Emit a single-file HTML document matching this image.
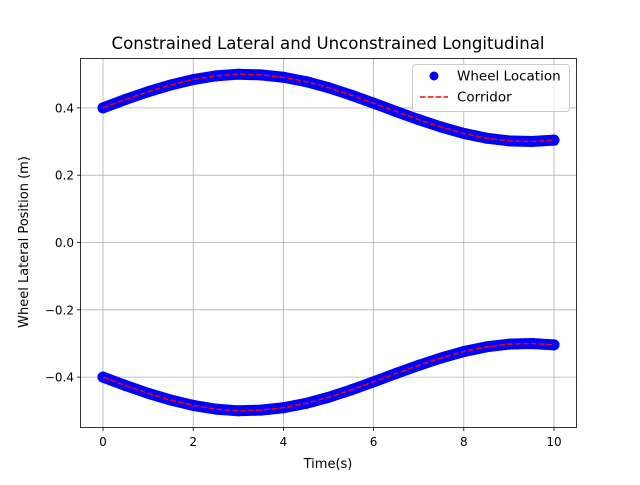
<!DOCTYPE html>
<html><head><meta charset="utf-8"><style>
body{margin:0;background:#fff}
svg{font-family:"DejaVu Sans","Liberation Sans",sans-serif}
</style></head><body>
<svg id="chart" width="640" height="480" viewBox="0 0 640 480" xmlns="http://www.w3.org/2000/svg">
<rect width="640" height="480" fill="#fff"/>
<g id="grid"></g>
<g id="series"></g>
<rect x="80.5" y="58.5" width="496" height="369" fill="none" stroke="#000" stroke-width="0.8"/>
<g id="ticks" font-size="12" fill="#000"></g>
<text x="328" y="49" text-anchor="middle" font-size="16.6">Constrained Lateral and Unconstrained Longitudinal</text>
<text x="328" y="468" text-anchor="middle" font-size="13">Time(s)</text>
<text transform="translate(28,242) rotate(-90)" text-anchor="middle" font-size="13">Wheel Lateral Position (m)</text>
<g>
<rect x="412.5" y="64.5" width="157" height="47" rx="3" fill="#fff" fill-opacity="0.8" stroke="#ccc"/>
<circle cx="434" cy="76" r="4.5" fill="#0000ff"/>
<text x="457" y="80.5" font-size="13.5">Wheel Location</text>
<line x1="420" y1="97" x2="448" y2="97" stroke="#ff0000" stroke-width="1.5" stroke-dasharray="5.5,2.4"/>
<text x="457" y="101.5" font-size="13.5">Corridor</text>
</g>
</svg>
<script>
const times=[0,0.5,1,1.5,2,2.5,3,3.5,4,4.5,5,5.5,6,6.5,7,7.5,8,8.5,9,9.5,10];
const upperValues=[.400,.425,.448,.468,.484,.495,.500,.498,.491,.478,.460,.438,.414,.389,.365,.343,.324,.310,.302,.300,.304];
const lowerValues=[-.400,-.425,-.448,-.468,-.484,-.495,-.500,-.498,-.491,-.478,-.460,-.438,-.414,-.389,-.365,-.343,-.324,-.310,-.302,-.300,-.304];
const xTicks=[0,2,4,6,8,10];
const yTicks=[-0.4,-0.2,0.0,0.2,0.4];
const yTickLabels=["−0.4","−0.2","0.0","0.2","0.4"];
const NS="http://www.w3.org/2000/svg";
const xS=v=>103+v*45.1;
const yS=v=>242.5-v*336.6;
function mk(t,a,p){const e=document.createElementNS(NS,t);for(const k in a)e.setAttribute(k,a[k]);p.appendChild(e);return e;}
const grid=document.getElementById('grid'),ticks=document.getElementById('ticks'),ser=document.getElementById('series');
xTicks.forEach(v=>{const x=xS(v);
const g=mk('line',{x1:x,x2:x,y1:58.5,y2:427.5,stroke:'#b0b0b0','stroke-width':0.8},grid);


const t=mk('line',{x1:x,x2:x,y1:427.5,y2:431,stroke:'#000','stroke-width':0.8},ticks);


const l=mk('text',{x:x,y:446,'text-anchor':'middle'},ticks);l.textContent=String(v);

});
yTicks.forEach((v,i)=>{const y=yS(v);
const g=mk('line',{x1:80.5,x2:576.5,y1:y,y2:y,stroke:'#b0b0b0','stroke-width':0.8},grid);


const t=mk('line',{x1:77,x2:80.5,y1:y,y2:y,stroke:'#000','stroke-width':0.8},ticks);


const l=mk('text',{x:74,y:y+4.5,'text-anchor':'end'},ticks);l.textContent=yTickLabels[i];

});
[[upperValues,'upper'],[lowerValues,'lower']].forEach(([vals,nm])=>{
const pts=times.map((t,i)=>xS(t)+','+yS(vals[i])).join(' ');
const band=mk('polyline',{points:pts,fill:'none',stroke:'#0000ff','stroke-width':11,'stroke-linecap':'round','stroke-linejoin':'round'},ser);


times.forEach((t,i)=>{const c=mk('circle',{cx:xS(t),cy:yS(vals[i]),r:5.5,fill:'#0000ff'},ser);

});
const line=mk('polyline',{points:pts,fill:'none',stroke:'#ff0000','stroke-width':1.5,'stroke-dasharray':'5.5,2.4'},ser);


});
</script>
</body></html>
